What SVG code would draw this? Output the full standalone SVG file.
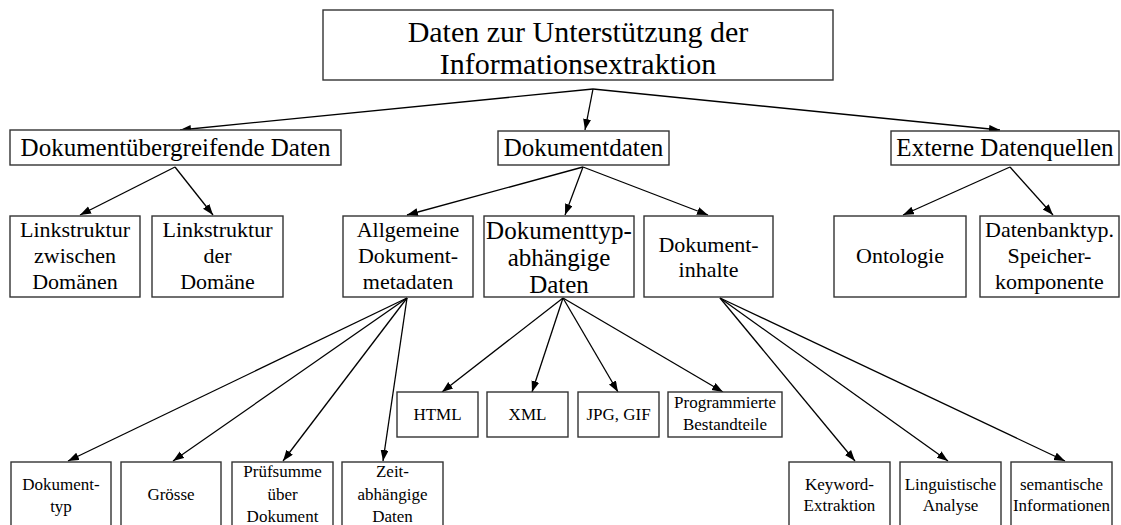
<svg xmlns="http://www.w3.org/2000/svg" width="1121" height="525" viewBox="0 0 1121 525" font-family="'Liberation Serif', 'Times New Roman', Times, serif">
  <defs>
    <marker id="arrow" markerUnits="userSpaceOnUse" markerWidth="12" markerHeight="10" refX="11" refY="4" orient="auto">
      <path d="M0,0 L11,4 L0,8 Z" fill="#000"/>
    </marker>
    <style>
      rect { fill: #fff; stroke: #333; stroke-width: 1.4; }
      text { font-family: 'Liberation Serif', 'Times New Roman', Times, serif; fill: #000; text-anchor: middle; }
      .t30 { font-size: 30px; }
      .t25 { font-size: 25px; }
      .t22 { font-size: 22px; }
      .t17 { font-size: 17px; }
      #connectors line { stroke: #000; stroke-width: 1.3; marker-end: url(#arrow); }
    </style>
  </defs>
  <rect x="0" y="0" width="1121" height="525" style="fill:#fff;stroke:none"/>

  <g id="connectors">
    <line x1="593" y1="89" x2="180" y2="130"/>
    <line x1="593" y1="89" x2="585" y2="130"/>
    <line x1="593" y1="89" x2="1000" y2="130"/>
    <line x1="175" y1="167" x2="80" y2="215"/>
    <line x1="175" y1="167" x2="213" y2="215"/>
    <line x1="583" y1="167" x2="407" y2="215"/>
    <line x1="583" y1="167" x2="565" y2="215"/>
    <line x1="583" y1="167" x2="708" y2="215"/>
    <line x1="1010" y1="167" x2="903" y2="215"/>
    <line x1="1010" y1="167" x2="1053" y2="215"/>
    <line x1="407" y1="298" x2="68" y2="461"/>
    <line x1="407" y1="298" x2="173" y2="461"/>
    <line x1="407" y1="298" x2="283" y2="461"/>
    <line x1="407" y1="298" x2="383" y2="461"/>
    <line x1="563" y1="298" x2="442" y2="392"/>
    <line x1="563" y1="298" x2="532" y2="392"/>
    <line x1="563" y1="298" x2="618" y2="392"/>
    <line x1="563" y1="298" x2="723" y2="392"/>
    <line x1="720" y1="298" x2="855" y2="461"/>
    <line x1="720" y1="298" x2="948" y2="461"/>
    <line x1="720" y1="298" x2="1065" y2="461"/>
  </g>

  <g id="root">
    <rect x="323" y="10" width="510" height="70"/>
    <text class="t30" x="578" y="42">Daten zur Unterstützung der</text>
    <text class="t30" x="578" y="74">Informationsextraktion</text>
  </g>

  <g id="dokumentuebergreifend">
    <rect x="10" y="130" width="331" height="35"/>
    <text class="t25" x="175.5" y="156">Dokumentübergreifende Daten</text>
  </g>
  <g id="dokumentdaten">
    <rect x="498" y="131" width="171" height="34"/>
    <text class="t25" x="583.5" y="156">Dokumentdaten</text>
  </g>
  <g id="externe">
    <rect x="891" y="131" width="228" height="34"/>
    <text class="t25" x="1005" y="156">Externe Datenquellen</text>
  </g>

  <g id="linkstruktur-zwischen">
    <rect x="10" y="216" width="130" height="81"/>
    <text class="t22" x="75" y="237">Linkstruktur</text>
    <text class="t22" x="75" y="263">zwischen</text>
    <text class="t22" x="75" y="289">Domänen</text>
  </g>
  <g id="linkstruktur-der">
    <rect x="152" y="216" width="131" height="81"/>
    <text class="t22" x="217.5" y="237">Linkstruktur</text>
    <text class="t22" x="217.5" y="263">der</text>
    <text class="t22" x="217.5" y="289">Domäne</text>
  </g>
  <g id="allgemeine">
    <rect x="343" y="216" width="130" height="81"/>
    <text class="t22" x="408" y="237">Allgemeine</text>
    <text class="t22" x="408" y="263">Dokument-</text>
    <text class="t22" x="408" y="289">metadaten</text>
  </g>
  <g id="dokumenttyp-abh">
    <rect x="484" y="216" width="150" height="81"/>
    <text class="t25" x="559" y="239">Dokumenttyp-</text>
    <text class="t25" x="559" y="266">abhängige</text>
    <text class="t25" x="559" y="293">Daten</text>
  </g>
  <g id="inhalte">
    <rect x="644" y="216" width="129" height="81"/>
    <text class="t22" x="708.5" y="252">Dokument-</text>
    <text class="t22" x="708.5" y="277">inhalte</text>
  </g>
  <g id="ontologie">
    <rect x="834" y="216" width="132" height="81"/>
    <text class="t22" x="900" y="263">Ontologie</text>
  </g>
  <g id="datenbank">
    <rect x="980" y="216" width="139" height="81"/>
    <text class="t22" x="1049.5" y="237">Datenbanktyp.</text>
    <text class="t22" x="1049.5" y="263">Speicher-</text>
    <text class="t22" x="1049.5" y="289">komponente</text>
  </g>

  <g id="html">
    <rect x="397" y="392" width="81" height="45"/>
    <text class="t17" x="437.5" y="420">HTML</text>
  </g>
  <g id="xml">
    <rect x="487" y="392" width="81" height="45"/>
    <text class="t17" x="527.5" y="420">XML</text>
  </g>
  <g id="jpg">
    <rect x="578" y="392" width="81" height="45"/>
    <text class="t17" x="618.5" y="420">JPG, GIF</text>
  </g>
  <g id="programmierte">
    <rect x="668" y="392" width="114" height="45"/>
    <text class="t17" x="725" y="408">Programmierte</text>
    <text class="t17" x="725" y="430">Bestandteile</text>
  </g>

  <g id="dokumenttyp">
    <rect x="11" y="462" width="100" height="70"/>
    <text class="t17" x="61" y="490">Dokument-</text>
    <text class="t17" x="61" y="512">typ</text>
  </g>
  <g id="groesse">
    <rect x="121" y="462" width="100" height="70"/>
    <text class="t17" x="171" y="500">Grösse</text>
  </g>
  <g id="pruefsumme">
    <rect x="232" y="462" width="101" height="70"/>
    <text class="t17" x="282.5" y="477">Prüfsumme</text>
    <text class="t17" x="282.5" y="500">über</text>
    <text class="t17" x="282.5" y="522">Dokument</text>
  </g>
  <g id="zeit">
    <rect x="342" y="462" width="101" height="70"/>
    <text class="t17" x="392.5" y="477">Zeit-</text>
    <text class="t17" x="392.5" y="500">abhängige</text>
    <text class="t17" x="392.5" y="522">Daten</text>
  </g>

  <g id="keyword">
    <rect x="789" y="462" width="101" height="70"/>
    <text class="t17" x="839.5" y="490">Keyword-</text>
    <text class="t17" x="839.5" y="511">Extraktion</text>
  </g>
  <g id="linguistische">
    <rect x="900" y="462" width="101" height="70"/>
    <text class="t17" x="950.5" y="490">Linguistische</text>
    <text class="t17" x="950.5" y="511">Analyse</text>
  </g>
  <g id="semantische">
    <rect x="1011" y="462" width="101" height="70"/>
    <text class="t17" x="1061.5" y="490">semantische</text>
    <text class="t17" x="1061.5" y="511">Informationen</text>
  </g>
</svg>
